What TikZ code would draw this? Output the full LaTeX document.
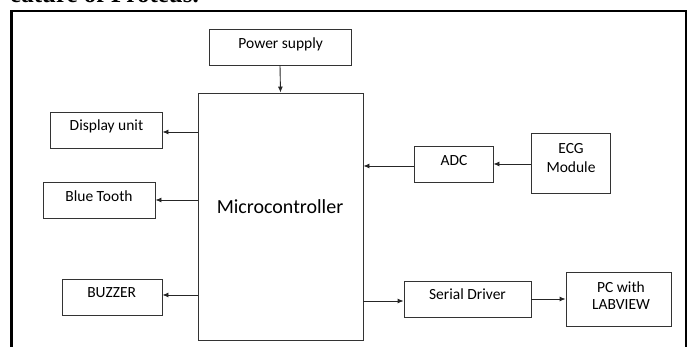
\documentclass[tikz,border=0pt]{standalone}
\usepackage{fontspec}
\setmainfont{Carlito}
\newfontfamily\headfont{Liberation Serif}
\usetikzlibrary{arrows.meta}
\begin{document}
\begin{tikzpicture}[x=1pt,y=-1pt,
  blk/.style={draw=black!80, line width=0.9pt, inner sep=0pt},
  lbl/.style={font=\fontsize{15.5}{18}\selectfont, inner sep=0pt, align=center, text=black},
  arr/.style={draw=black!85, line width=0.9pt, -{Latex[length=6pt,width=5pt]}}]
\useasboundingbox (0,0) rectangle (691,347);
\clip (0,0) rectangle (691,347);
\fill[white] (0,0) rectangle (691,347);
% heading fragment (cut by the top edge)
\node[font=\headfont\bfseries\fontsize{25}{28}\selectfont, anchor=base west, inner sep=0pt] (head) at (10,2.5) {eature of Proteus.};
% frame
\draw[line width=2.6pt] (11.5,350) -- (11.5,11) -- (686,11) -- (686,350);
% blocks
\node[blk, minimum width=142, minimum height=36] (ps) at (280,47) {};
\node[blk, minimum width=165, minimum height=247] (mc) at (280.5,216.5) {};
\node[blk, minimum width=112, minimum height=36] (disp) at (106,130) {};
\node[blk, minimum width=112, minimum height=36] (bt) at (99,200) {};
\node[blk, minimum width=100, minimum height=36] (buz) at (112,297) {};
\node[blk, minimum width=79, minimum height=36] (adc) at (453.5,164) {};
\node[blk, minimum width=79, minimum height=60] (ecg) at (570.5,163) {};
\node[blk, minimum width=127, minimum height=36] (ser) at (467.5,299) {};
\node[blk, minimum width=105, minimum height=54] (pc) at (618.5,299) {};
% labels
\node[lbl] (pst) at (280.7,44) {Power supply};
\node[lbl, font=\fontsize{20}{24}\selectfont] (mct) at (280,207) {Microcontroller};
\node[lbl] (dispt) at (106.5,126) {Display unit};
\node[lbl] (btt) at (99,196) {Blue Tooth};
\node[lbl] (buzt) at (111.7,293) {BUZZER};
\node[lbl] (adct) at (454,161) {ADC};
\node[lbl, font=\fontsize{15.5}{19.5}\selectfont] (ecgt) at (571,158) {ECG\\Module};
\node[lbl] (sert) at (467.5,294) {Serial Driver};
\node[lbl, font=\fontsize{15.5}{17.5}\selectfont] (pct) at (621,295.5) {PC with\\LABVIEW};
% connectors
\draw[arr] (ps.south) -- (mc.north);
\draw[arr] ([yshift=-2]mc.west |- disp.east) -- ([yshift=-2]disp.east);
\draw[arr] (mc.west |- bt.east) -- (bt.east);
\draw[arr] ([yshift=2]mc.west |- buz.east) -- ([yshift=2]buz.east);
\draw[arr] ([yshift=-2]adc.west) -- ([yshift=-2]mc.east |- adc.west);
\draw[arr] ([yshift=-1]ecg.west) -- ([yshift=-1]adc.east |- ecg.west);
\draw[arr] ([yshift=-2]mc.east |- ser.west) -- ([yshift=-2]ser.west);
\draw[arr] (ser.east) -- (pc.west);
\end{tikzpicture}
\end{document}
